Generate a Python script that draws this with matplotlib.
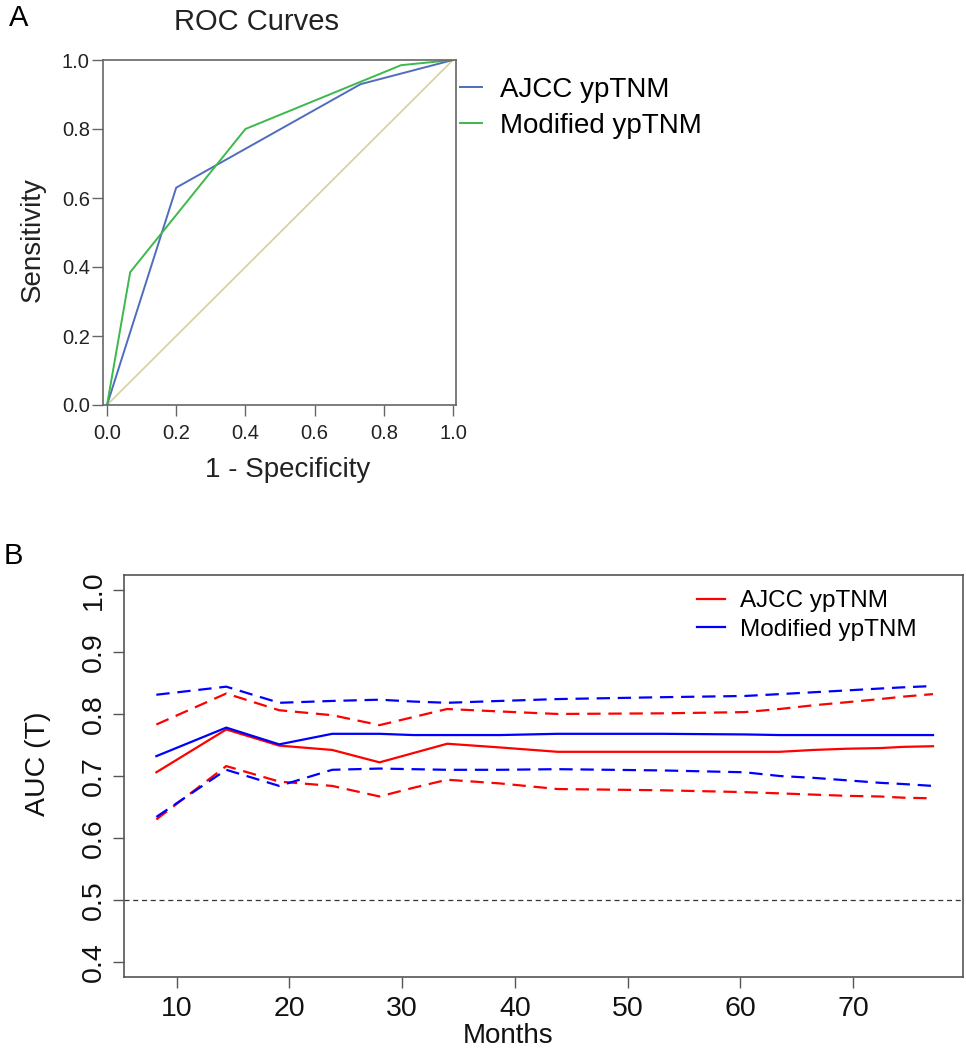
import numpy as np
import matplotlib
matplotlib.use('Agg')
import matplotlib.pyplot as plt

plt.rcParams['font.family'] = ['Liberation Sans', 'DejaVu Sans']

# ---- Panel A data: ROC curves
ajcc_fpr = [0.0, 0.2, 0.733, 1.0]
ajcc_tpr = [0.0, 0.63, 0.93, 1.0]
mod_fpr = [0.0, 0.067, 0.4, 0.85, 1.0]
mod_tpr = [0.0, 0.385, 0.80, 0.985, 1.0]
ref_line = [0.0, 1.0]

# ---- Panel B data: time-dependent AUC with confidence bands
months = [8.2, 14.4, 19.1, 23.8, 28.0, 31.0, 34.0, 38.7, 43.8, 53.0,
          60.4, 63.5, 66.5, 69.5, 72.4, 74.5, 77.1]
ajcc_auc = [0.706, 0.775, 0.749, 0.742, 0.722, 0.737, 0.752, 0.746, 0.739,
            0.739, 0.739, 0.739, 0.742, 0.744, 0.745, 0.747, 0.748]
ajcc_hi = [0.783, 0.833, 0.806, 0.798, 0.782, 0.795, 0.808, 0.804, 0.800,
           0.801, 0.803, 0.808, 0.814, 0.819, 0.824, 0.828, 0.832]
ajcc_lo = [0.630, 0.716, 0.691, 0.684, 0.667, 0.681, 0.694, 0.688, 0.679,
           0.677, 0.674, 0.672, 0.670, 0.668, 0.667, 0.665, 0.664]
mod_auc = [0.732, 0.778, 0.751, 0.768, 0.768, 0.766, 0.766, 0.766, 0.768,
           0.768, 0.767, 0.766, 0.766, 0.766, 0.766, 0.766, 0.766]
mod_hi = [0.831, 0.844, 0.818, 0.821, 0.823, 0.820, 0.818, 0.821, 0.824,
          0.827, 0.829, 0.832, 0.835, 0.838, 0.841, 0.843, 0.845]
mod_lo = [0.634, 0.710, 0.684, 0.710, 0.712, 0.711, 0.710, 0.710, 0.711,
          0.709, 0.706, 0.700, 0.697, 0.693, 0.689, 0.687, 0.684]

W, H = 966, 1050
fig = plt.figure(figsize=(W / 100, H / 100), dpi=100)


def fx(px):
    return px / W


def fy(py):
    return 1 - py / H


# ---------------- Panel A ----------------
ax1 = fig.add_axes([fx(103), fy(405), fx(456) - fx(103), fy(60) - fy(405)])
ax1.plot(ref_line, ref_line, color='#d8cf9e', lw=1.2)
l1, = ax1.plot(ajcc_fpr, ajcc_tpr, color='#4f6cbf', lw=1.4, label='AJCC ypTNM')
l2, = ax1.plot(mod_fpr, mod_tpr, color='#3db84b', lw=1.4, label='Modified ypTNM')
ax1.set_xlim(-0.0116, 1.0087)
ax1.set_ylim(0, 1)
ax1.set_xticks(np.arange(0, 1.01, 0.2))
ax1.set_yticks(np.arange(0, 1.01, 0.2))
ax1.xaxis.set_major_formatter(matplotlib.ticker.FormatStrFormatter('%.1f'))
ax1.yaxis.set_major_formatter(matplotlib.ticker.FormatStrFormatter('%.1f'))
ax1.tick_params(direction='out', length=8, width=1, color='#666666',
                labelsize=14.5, labelcolor='#222222')
ax1.tick_params(axis='x', pad=6)
ax1.tick_params(axis='y', pad=1.5)
for s in ax1.spines.values():
    s.set_color('#666666')
    s.set_linewidth(1.2)

fig.text(fx(257), fy(22), 'ROC Curves', fontsize=21, ha='center', va='center',
         color='#222222')
fig.text(fx(33), fy(240), 'Sensitivity', fontsize=20, rotation=90,
         ha='center', va='center', color='#222222')
fig.text(fx(288), fy(470), '1 - Specificity', fontsize=20, ha='center',
         va='center', color='#222222')
fig.text(fx(19), fy(18), 'A', fontsize=21, ha='center', va='center')

fig.legend(handles=[l1, l2], loc='upper left',
           bbox_to_anchor=(fx(460), fy(77)), frameon=False, fontsize=20,
           handlelength=0.8, handletextpad=0.65, labelspacing=0.35,
           borderpad=0, borderaxespad=0)

# ---------------- Panel B ----------------
ax2 = fig.add_axes([fx(124), fy(977), fx(963) - fx(124), fy(575) - fy(977)])
dash = (0, (6, 3.5))
ax2.plot(months, ajcc_hi, color='red', lw=1.6, linestyle=dash)
ax2.plot(months, ajcc_lo, color='red', lw=1.6, linestyle=dash)
ax2.plot(months, mod_hi, color='blue', lw=1.6, linestyle=dash)
ax2.plot(months, mod_lo, color='blue', lw=1.6, linestyle=dash)
r1, = ax2.plot(months, ajcc_auc, color='red', lw=1.6, label='AJCC ypTNM')
b1, = ax2.plot(months, mod_auc, color='blue', lw=1.6, label='Modified ypTNM')
ax2.axhline(0.5, color='#333333', lw=0.9, linestyle=(0, (4, 3)))
ax2.set_xlim(5.33, 79.76)
ax2.set_ylim(0.376, 1.024)
ax2.set_xticks(range(10, 71, 10))
ax2.set_yticks(np.arange(0.4, 1.01, 0.1))
ax2.yaxis.set_major_formatter(matplotlib.ticker.FormatStrFormatter('%.1f'))
ax2.tick_params(direction='out', length=8, width=1, color='#555555',
                labelsize=20.5, labelcolor='#111111')
ax2.tick_params(axis='x', pad=6)
ax2.tick_params(axis='y', pad=4)
for lab in ax2.get_yticklabels():
    lab.set_rotation(90)
    lab.set_va('center')
for s in ax2.spines.values():
    s.set_color('#555555')
    s.set_linewidth(1.2)

ax2.legend(handles=[r1, b1], loc='upper left',
           bbox_to_anchor=(fx(697), fy(590)), bbox_transform=fig.transFigure,
           frameon=False, fontsize=17.5, handlelength=1.15,
           handletextpad=0.6, labelspacing=0.27, borderpad=0, borderaxespad=0)

fig.text(fx(38), fy(764), 'AUC (T)', fontsize=20.5, rotation=90,
         ha='center', va='center', color='#111111')
fig.text(fx(508), fy(1049), 'Months', fontsize=20, ha='center',
         va='bottom', color='#111111')
fig.text(fx(13), fy(556), 'B', fontsize=21, ha='center', va='center')

fig.savefig('out.png', dpi=100)
